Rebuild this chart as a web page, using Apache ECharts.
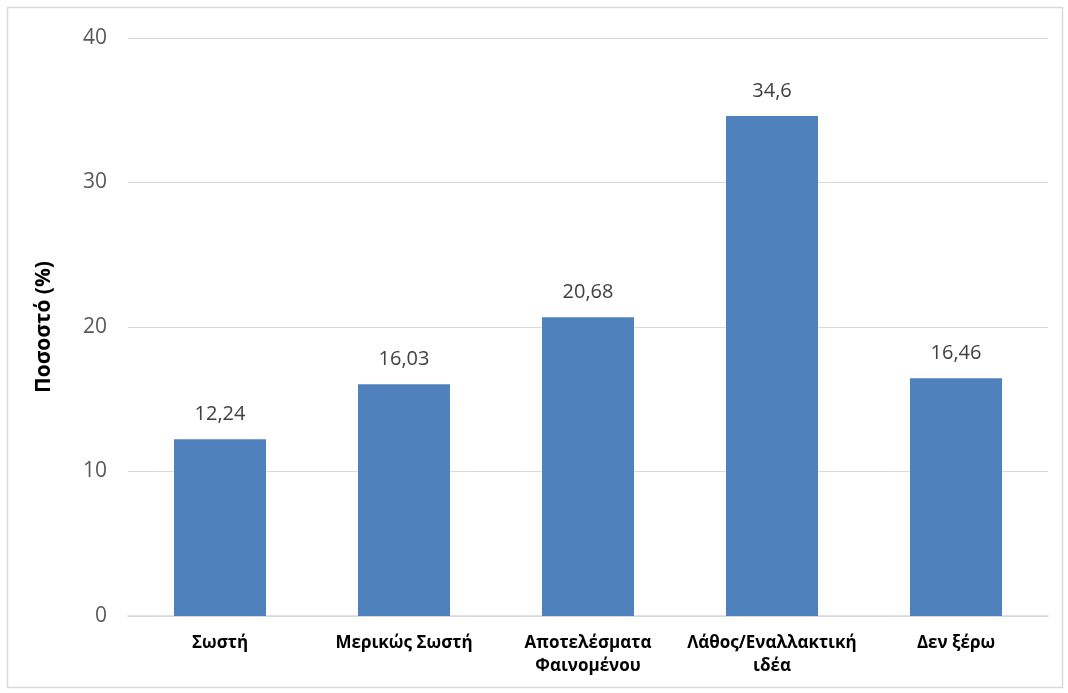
<!DOCTYPE html>
<html>
<head>
<meta charset="utf-8">
<script src="https://cdn.jsdelivr.net/npm/echarts@6/dist/echarts.min.js"></script>
<style>
  html, body { margin: 0; padding: 0; background: #ffffff; }
  #chart { width: 1068px; height: 693px; }
</style>
</head>
<body>
<div id="chart"></div>
<script>
// Answer categories and the share (%) of responses in each
const categories = ['Σωστή', 'Μερικώς Σωστή', 'Αποτελέσματα\nΦαινομένου', 'Λάθος/Εναλλακτική\nιδέα', 'Δεν ξέρω'];
const values = [12.24, 16.03, 20.68, 34.6, 16.46];
const yTicks = { min: 0, max: 40, interval: 10 };
const yTitle = 'Ποσοστό (%)';

const font = '"Open Sans", "Noto Sans", sans-serif';
const chart = echarts.init(document.getElementById('chart'));

chart.setOption({
  animation: false,
  graphic: [{
    type: 'rect',
    shape: { x: 7.5, y: 7.5, width: 1055, height: 680 },
    style: { fill: 'none', stroke: '#d9d9d9', lineWidth: 1.5 },
    silent: true
  }],
  grid: { left: 128, right: 20, top: 38, bottom: 77, containLabel: false },
  xAxis: {
    type: 'category',
    data: categories,
    axisLine: { lineStyle: { color: '#d9d9d9', width: 1.5 } },
    axisTick: { show: false },
    axisLabel: {
      color: '#000000',
      fontFamily: font,
      fontWeight: 'bold',
      fontSize: 17,
      lineHeight: 23,
      margin: 16,
      interval: 0
    }
  },
  yAxis: {
    type: 'value',
    min: yTicks.min,
    max: yTicks.max,
    interval: yTicks.interval,
    name: yTitle,
    nameLocation: 'middle',
    nameGap: 73,
    nameRotate: 90,
    nameTextStyle: { color: '#000000', fontFamily: font, fontWeight: 'bold', fontSize: 21 },
    axisLine: { show: false },
    axisTick: { show: false },
    splitLine: { lineStyle: { color: '#d9d9d9', width: 1.2 } },
    axisLabel: { color: '#595959', fontFamily: font, fontSize: 21, margin: 21 }
  },
  series: [{
    type: 'bar',
    data: values,
    barWidth: '50%',
    itemStyle: { color: '#4f81bd' },
    label: {
      show: true,
      position: 'top',
      distance: 15,
      color: '#404040',
      fontFamily: font,
      fontSize: 20,
      formatter: p => String(p.value).replace('.', ',')
    }
  }]
});
</script>
</body>
</html>
